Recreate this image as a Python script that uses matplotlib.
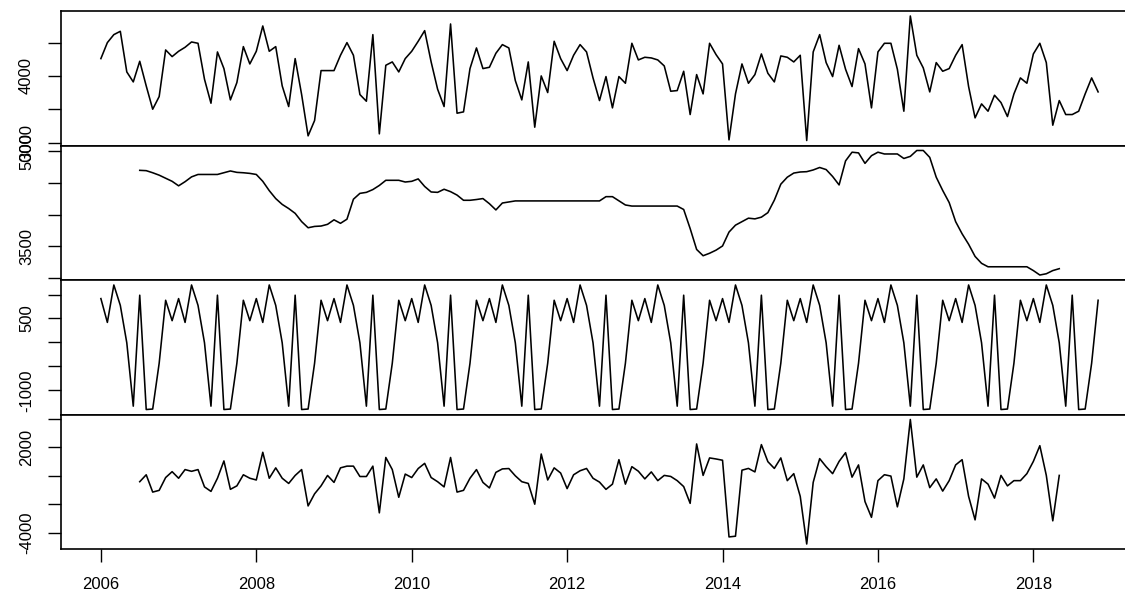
import numpy as np
import matplotlib.pyplot as plt

plt.rcParams['font.family'] = ['Liberation Sans', 'DejaVu Sans']
plt.rcParams['font.size'] = 12

# monthly series, Jan 2006 - Nov 2018
start_year = 2006
observed = [
    4260, 4500, 4620, 4670, 4060, 3910, 4220, 3850, 3500, 3690, 4390, 4290,
    4370, 4430, 4510, 4490, 3950, 3590, 4360, 4110, 3640, 3900, 4440, 4180,
    4370, 4750, 4370, 4440, 3850, 3540, 4260, 3720, 3100, 3330, 4080, 4080,
    4080, 4310, 4500, 4310, 3720, 3620, 4620, 3130, 4160, 4210, 4060, 4260,
    4370, 4520, 4680, 4210, 3800, 3540, 4780, 3440, 3460, 4110, 4420, 4110,
    4130, 4340, 4470, 4420, 3930, 3640, 4210, 3230, 4000, 3750, 4520, 4260,
    4080, 4310, 4470, 4360, 3970, 3630, 3990, 3520, 3990, 3890, 4490, 4240,
    4280, 4270, 4240, 4150, 3770, 3780, 4070, 3420, 4020, 3730, 4490, 4320,
    4180, 3040, 3730, 4180, 3890, 4020, 4330, 4040, 3910, 4300, 4280, 4210,
    4310, 3030, 4360, 4620, 4200, 3990, 4460, 4100, 3840, 4410, 4180, 3520,
    4360, 4490, 4490, 4100, 3470, 4900, 4310, 4120, 3760, 4200, 4070, 4110,
    4310, 4470, 3840, 3370, 3580, 3470, 3710, 3600, 3390, 3730, 3970, 3890,
    4330, 4490, 4200, 3260, 3630, 3420, 3420, 3470, 3730, 3970, 3760,
]

# trend and random start Jul 2006 (6 months in) and end May 2018
trend_offset = 6
trend = [
    4700, 4695, 4662, 4624, 4575, 4527, 4456, 4521, 4597, 4635, 4635, 4635,
    4635, 4662, 4690, 4668, 4662, 4652, 4635, 4527, 4380, 4255, 4163, 4098,
    4022, 3892, 3795, 3816, 3822, 3849, 3920, 3865, 3930, 4245, 4337, 4353,
    4397, 4462, 4543, 4543, 4543, 4516, 4527, 4565, 4446, 4359, 4353, 4402,
    4364, 4310, 4228, 4228, 4240, 4255, 4174, 4076, 4185, 4201, 4218, 4218,
    4218, 4218, 4218, 4218, 4218, 4218, 4218, 4218, 4218, 4218, 4218, 4218,
    4285, 4285, 4219, 4154, 4137, 4137, 4137, 4137, 4137, 4137, 4137, 4137,
    4083, 3782, 3453, 3354, 3393, 3442, 3508, 3727, 3836, 3891, 3946, 3935,
    3962, 4033, 4230, 4482, 4592, 4657, 4674, 4679, 4706, 4745, 4712, 4603,
    4470, 4849, 4986, 4975, 4810, 4931, 4986, 4958, 4958, 4958, 4887, 4920,
    5013, 5013, 4904, 4592, 4383, 4192, 3891, 3699, 3535, 3343, 3234, 3180,
    3180, 3180, 3180, 3180, 3180, 3180, 3120, 3050, 3070, 3120, 3150,
]

# seasonal effect Jan..Dec
seasonal_cycle = [915, 418, 1199, 773, -8, -1330, 986, -1400, -1390, -434, 880, 454]

random_part = [
    -412, 76, -1143, -1021, -119, 295, -168, 442, 320, 442, -778, -1094,
    -168, 1051, -948, -705, 76, -168, -290, 1660, -168, 563, -168, -534,
    27, 442, -2118, -1265, -705, 27, -461, 563, 685, 685, -46, -46,
    685, -2606, 1295, 442, -1509, 125, -119, 515, 880, -119, -412, -778,
    1295, -1143, -1021, -168, 442, -461, -851, 246, 490, 515, 2, -412,
    -534, -1996, 1538, -290, 563, 198, -899, 76, 360, 520, -170, -440,
    -952, -583, 1140, -583, 647, 327, -214, 278, -337, 32, -42, -337,
    -755, -1937, 2247, 32, 1263, 1189, 1100, -4300, -4250, 400, 524, 278,
    2200, 1000, 524, 1263, -337, 155, -1445, -4800, -460, 1214, 647, 155,
    1017, 1632, -91, 770, -1813, -2921, -337, 81, -17, -2183, -214, 3970,
    -91, 770, -829, -214, -1075, -337, 770, 1140, -1445, -3100, -214, -583,
    -1568, 32, -706, -337, -337, 155, 1017, 2124, 32, -3167, 32,
]

x_ticks = [2006, 2008, 2010, 2012, 2014, 2016, 2018]

n = len(observed)
t = start_year + np.arange(n) / 12
t_mid = t[trend_offset:trend_offset + len(trend)]
seasonal = np.tile(seasonal_cycle, n // 12 + 1)[:n]

panels = [
    (t, observed, [3000, 3500, 4000, 4500], ['3000', '', '4000', '']),
    (t_mid, trend, [3000, 3500, 4000, 4500, 5000], ['', '3500', '', '', '5000']),
    (t, seasonal, [-1000, -500, 0, 500, 1000], ['-1000', '', '', '500', '']),
    (t_mid, random_part, [-4000, -2000, 0, 2000, 4000], ['-4000', '', '', '2000', '']),
]

W, H = 1125, 605
fig = plt.figure(figsize=(W / 100, H / 100), dpi=100)
left, right, top, bottom = 61, 1138, 11, 549
ph = (bottom - top) / 4

axes = []
for k, (xs, ys, ticks, labels) in enumerate(panels):
    y0 = top + k * ph
    ax = fig.add_axes([left / W, 1 - (y0 + ph) / H, (right - left) / W, ph / H],
                      sharex=axes[0] if axes else None)
    ax.plot(xs, ys, color='black', linewidth=1.15)
    ax.margins(x=0.04, y=0.04)
    ax.set_yticks(ticks, labels)
    ax.tick_params(axis='y', direction='out', length=9.5, width=1, pad=10, labelsize=12)
    for lab in ax.get_yticklabels():
        lab.set_rotation(90)
        lab.set_va('center')
    for s in ax.spines.values():
        s.set_linewidth(1.2)
    if k < 3:
        ax.tick_params(axis='x', bottom=False, labelbottom=False)
    axes.append(ax)

axes[-1].set_xticks(x_ticks)
axes[-1].tick_params(axis='x', direction='out', length=9.5, width=1, pad=11, labelsize=12)

fig.savefig('out.png', dpi=100)
